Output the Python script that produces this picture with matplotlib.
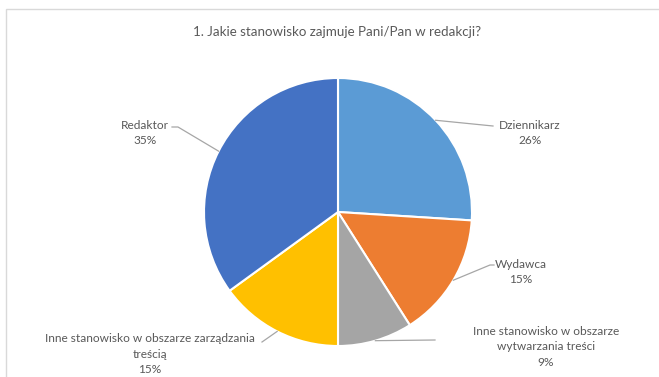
import matplotlib
matplotlib.use("Agg")
import matplotlib.pyplot as plt
import numpy as np
from matplotlib.patches import Rectangle

title = "1. Jakie stanowisko zajmuje Pani/Pan w redakcji?"
categories = ["Dziennikarz", "Wydawca", "Inne stanowisko w obszarze\nwytwarzania treści",
              "Inne stanowisko w obszarze zarządzania\ntreścią", "Redaktor"]
values = [26, 15, 9, 15, 35]
colors = ["#5B9BD5", "#ED7D31", "#A5A5A5", "#FFC000", "#4472C4"]

W, H = 659, 377
plt.rcParams['font.family'] = ['Lato', 'DejaVu Sans']
fig = plt.figure(figsize=(W / 100, H / 100), dpi=100)
ax = fig.add_axes([0, 0, 1, 1])
ax.set_xlim(0, W)
ax.set_ylim(0, H)
ax.set_aspect('equal')
ax.axis('off')

def Y(y):
    return H - y

# chart area border
ax.add_patch(Rectangle((5.5, -20), 700, Y(8.5) + 20, fill=False, edgecolor="#D9D9D9", lw=1.0))

cx, cy, r = 338, Y(212), 134
wedges, _ = ax.pie(values, colors=colors, startangle=90, counterclock=False,
                   center=(cx, cy), radius=r, frame=True,
                   wedgeprops=dict(edgecolor="white", linewidth=1.5))
ax.set_xlim(0, W)
ax.set_ylim(0, H)
ax.axis('off')

ax.text(337, Y(32), title, ha='center', va='center', fontsize=9.6, color="#595959")

# label layout (pixel coords, y from top)
label_pos = [(530, 133), (521, 272), (546, 347), (150, 354), (145, 133)]
line_pts = [
    [(493, 126)],
    [(490, 265), (494, 265)],
    [(435, 340)],
    [(262, 342)],
    [(178, 127), (172, 127)],
]
for i, (w, v) in enumerate(zip(wedges, values)):
    ang = np.deg2rad((w.theta1 + w.theta2) / 2)
    x0, y0 = cx + r * np.cos(ang), cy + r * np.sin(ang)
    xs = [x0] + [p[0] for p in line_pts[i]]
    ys = [y0] + [Y(p[1]) for p in line_pts[i]]
    ax.plot(xs, ys, color="#A6A6A6", lw=0.9)
    lx, ly = label_pos[i]
    ax.text(lx, Y(ly), f"{categories[i]}\n{v}%", ha='center', va='center',
            fontsize=8.6, color="#595959", linespacing=1.45)

fig.savefig("out.png", dpi=100)
